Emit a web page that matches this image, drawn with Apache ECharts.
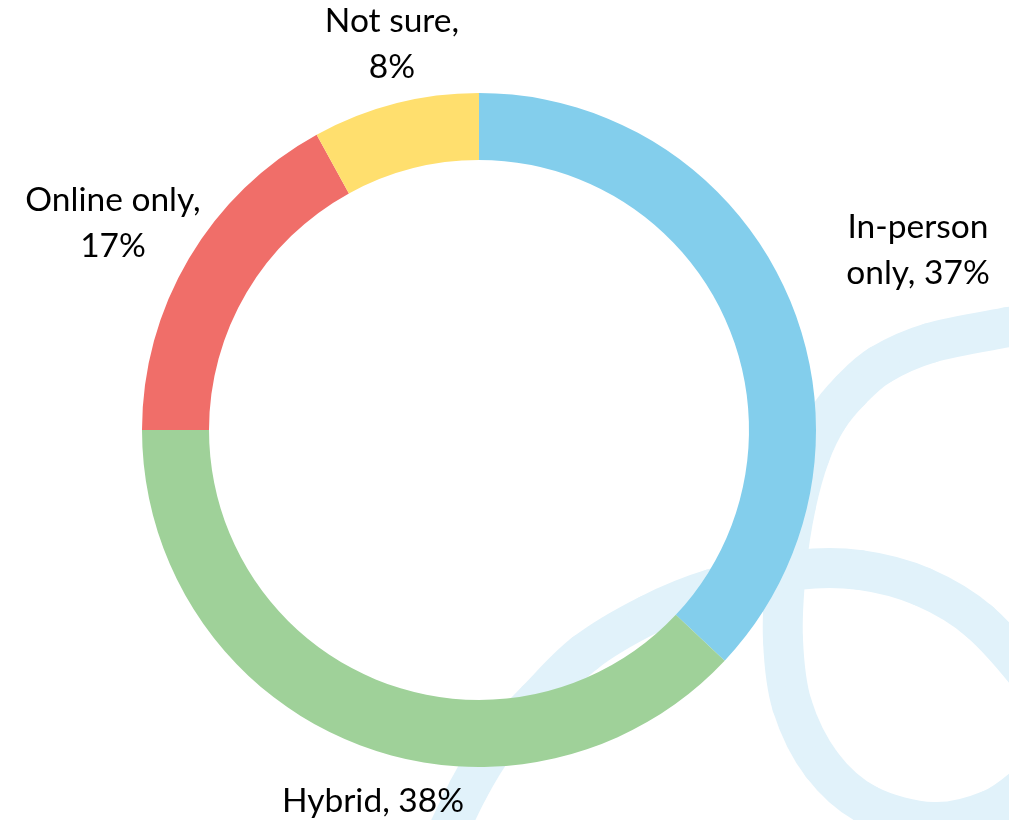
<!DOCTYPE html>
<html>
<head>
<meta charset="utf-8">
<script src="https://cdn.jsdelivr.net/npm/echarts@6/dist/echarts.min.js"></script>
<style>
html,body{margin:0;padding:0;background:#ffffff;}
#chart{width:1009px;height:820px;}
</style>
</head>
<body>
<div id="chart"></div>
<script>
// ---- data ----
const categories = ['In-person only', 'Hybrid', 'Online only', 'Not sure'];
const values = [37, 38, 17, 8];
const colors = ['#83CEEC', '#9FD199', '#F06E69', '#FFDF6E'];
// label line-break style per category: 'name' = break inside name, 'none' = single line, 'comma' = break after comma
const labelBreaks = ['name', 'none', 'comma', 'comma'];
// label block centres (layout only)
const labelCenters = [[918, 250], [373, 801], [113, 223], [392, 44]];

// decorative background strokes (not data)
const decoCurveA = [[1060, 318], [1009, 327], [930, 343], [880, 365], [850, 391], [828, 418], [810, 455], [796, 505], [786, 570], [783, 640], [792, 705], [822, 765], [868, 805], [933, 822], [990, 810], [1030, 782], [1060, 750]];
const decoCurveB = [[430, 870], [468, 790], [497, 743], [537, 700], [585, 653], [648, 615], [712, 589], [798, 570], [860, 570], [923, 587], [980, 622], [1040, 690], [1070, 740]];

const deco = '#E1F2FA';
function splineSegments(pts) {
  const out = [];
  for (let i = 0; i < pts.length - 1; i++) {
    const p0 = pts[i - 1] || pts[i];
    const p1 = pts[i];
    const p2 = pts[i + 1];
    const p3 = pts[i + 2] || p2;
    out.push({
      type: 'bezierCurve', z: 0, silent: true,
      shape: {
        x1: p1[0], y1: p1[1], x2: p2[0], y2: p2[1],
        cpx1: p1[0] + (p2[0] - p0[0]) / 6, cpy1: p1[1] + (p2[1] - p0[1]) / 6,
        cpx2: p2[0] - (p3[0] - p1[0]) / 6, cpy2: p2[1] - (p3[1] - p1[1]) / 6
      },
      style: {stroke: deco, lineWidth: 40, fill: null, lineCap: 'round'}
    });
  }
  return out;
}

const chart = echarts.init(document.getElementById('chart'), null, {renderer: 'canvas'});

const option = {
  backgroundColor: '#ffffff',
  animation: false,
  graphic: splineSegments(decoCurveA).concat(splineSegments(decoCurveB)),
  series: [{
    type: 'pie',
    z: 5,
    center: [479, 430],
    radius: [270, 337],
    startAngle: 90,
    clockwise: true,
    avoidLabelOverlap: false,
    itemStyle: {borderWidth: 0},
    emphasis: {disabled: true},
    labelLine: {show: false},
    label: {
      show: true,
      position: 'outside',
      fontFamily: 'Lato',
      fontSize: 33.5,
      lineHeight: 46,
      color: '#000000',
      align: 'center',
      formatter: function (p) {
        const b = labelBreaks[p.dataIndex];
        if (b === 'name') return p.name.replace(' ', '\n') + ', ' + p.value + '%';
        if (b === 'comma') return p.name + ',\n' + p.value + '%';
        return p.name + ', ' + p.value + '%';
      }
    },
    labelLayout: function (params) {
      const c = labelCenters[params.dataIndex];
      return {x: c[0], y: c[1], align: 'center', verticalAlign: 'middle'};
    },
    data: categories.map((n, i) => ({name: n, value: values[i], itemStyle: {color: colors[i]}}))
  }]
};
chart.setOption(option);
</script>
</body>
</html>
